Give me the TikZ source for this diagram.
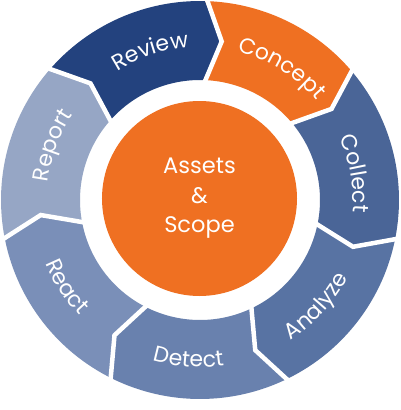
\documentclass[tikz,border=0pt]{standalone}
\usepackage{fontspec}
\setmainfont{Poppins}
\usetikzlibrary{decorations.text}
\definecolor{cReview}{HTML}{23427E}
\definecolor{cConcept}{HTML}{EF7022}
\definecolor{cCollect}{HTML}{4A6597}
\definecolor{cAnalyze}{HTML}{5873A3}
\definecolor{cDetect}{HTML}{6981AE}
\definecolor{cReact}{HTML}{7A8FB8}
\definecolor{cReport}{HTML}{96A6C5}
\newcommand\Ro{199}
\newcommand\Ri{120}
\newcommand\Rm{160}
\newcommand\tp{6.3}
\newcommand\ringfont{\fontsize{22}{22}\selectfont\color{white}}
% segment from angle #1 (counterclockwise end) to #2 (clockwise end), colour #3
\newcommand\ringseg[3]{%
  \fill[#3] ({#1}:\Ro) arc[start angle={#1}, end angle={#2}, radius=\Ro]
    -- ({#2-\tp}:\Rm) -- ({#2}:\Ri)
    arc[start angle={#2}, end angle={#1}, radius=\Ri]
    -- ({#1-\tp}:\Rm) -- cycle;}
\newcommand\ringgap[1]{%
  \draw[gapline] ({#1}:\Ro+6) -- ({#1-\tp}:\Rm) -- ({#1}:\Ri-6);}
\newcommand\cwlabel[3]{%
  \path[decorate,decoration={text along path,text align=center,
    text={|\ringfont|#3}}]
    ({#1+60}:#2) arc[start angle={#1+60}, end angle={#1-60}, radius=#2];}
\newcommand\ccwlabel[3]{%
  \path[decorate,decoration={text along path,text align=center,
    text={|\ringfont|#3}}]
    ({#1-60}:#2) arc[start angle={#1-60}, end angle={#1+60}, radius=#2];}
\begin{document}
\begin{tikzpicture}[x=1pt,y=1pt,
  gapline/.style={draw=white,line width=4.5pt,line join=miter,line cap=butt},
  corecircle/.style={circle,fill=cConcept,minimum size=195pt,inner sep=0pt},
  coretext/.style={align=center,text=white,font=\fontsize{22.5}{29.5}\selectfont}]
\useasboundingbox (-200,-210) rectangle (200,200);
\fill[white] (-200,-210) rectangle (200,200);
% ring segments
\ringseg{139.5}{88.5}{cReview}
\ringseg{88.5}{41.0}{cConcept}
\ringseg{41.0}{-10.7}{cCollect}
\ringseg{-10.7}{-63.5}{cAnalyze}
\ringseg{-63.5}{-116}{cDetect}
\ringseg{-116}{-168.3}{cReact}
\ringseg{191.7}{139.5}{cReport}
% white gaps
\ringgap{139.5}
\ringgap{88.5}
\ringgap{41.0}
\ringgap{-10.7}
\ringgap{-63.5}
\ringgap{-116}
\ringgap{-168.3}
% centre
\node[corecircle] (core) at (-0.5,1.5) {};
\node[coretext] (coretxt) at (core) {Assets\\\&\\Scope};
% labels
\cwlabel{108.4}{153}{Review}
\cwlabel{58.2}{153}{Concept}
\cwlabel{9.8}{153}{Collect}
\ccwlabel{-42.4}{167}{Analyze}
\ccwlabel{-94}{167}{Detect}
\ccwlabel{-147}{167}{React}
\cwlabel{159.8}{153}{Report}
\end{tikzpicture}
\end{document}
